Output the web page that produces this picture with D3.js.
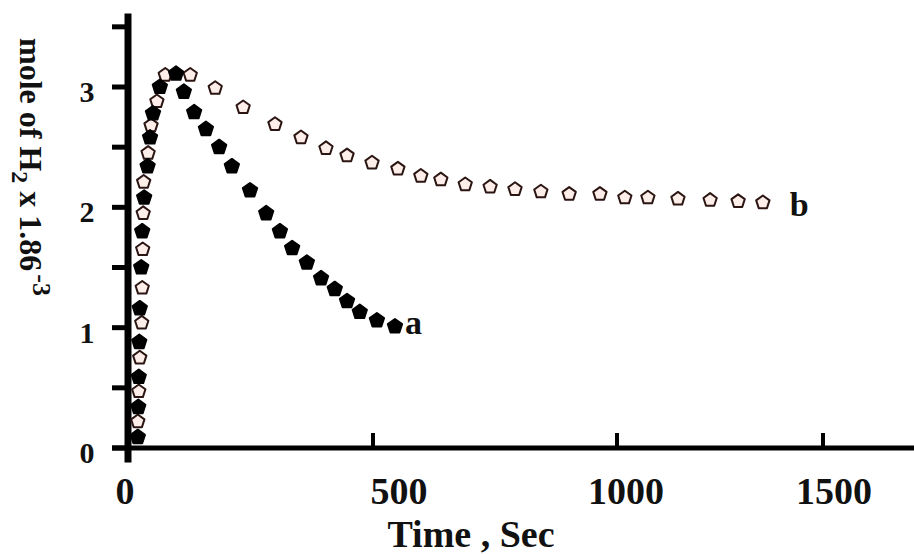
<!DOCTYPE html>
<html>
<head>
<meta charset="utf-8">
<script src="https://cdn.jsdelivr.net/npm/d3@7"></script>
<style>
  body { margin: 0; background: #fff; }
  svg text { font-family: "Liberation Serif", "Times New Roman", serif; font-weight: bold; fill: #111; }
</style>
</head>
<body>
<svg id="chart"></svg>
<script>
// curve a : filled markers
const timeA = [20, 21, 22, 23, 24, 27, 29, 33, 40, 45, 51, 65, 98, 114, 135, 159, 186, 212, 249, 282, 310, 335, 365, 394, 422, 447, 473, 508, 545];
const molA  = [0.09, 0.34, 0.59, 0.88, 1.16, 1.50, 1.80, 2.08, 2.34, 2.58, 2.78, 3.00, 3.11, 2.96, 2.79, 2.65, 2.50, 2.34, 2.14, 1.95, 1.80, 1.66, 1.54, 1.41, 1.32, 1.22, 1.13, 1.06, 1.01];

// curve b : open markers
const timeB = [20, 22, 24, 28, 29, 30, 31, 32, 41, 47, 59, 76, 127, 178, 235, 300, 353, 404, 447, 498, 551, 598, 639, 689, 740, 791, 844, 902, 965, 1019, 1075, 1148, 1226, 1294, 1354];
const molB  = [0.22, 0.47, 0.75, 1.04, 1.33, 1.65, 1.95, 2.21, 2.45, 2.68, 2.88, 3.10, 3.10, 2.99, 2.83, 2.69, 2.58, 2.49, 2.43, 2.37, 2.32, 2.26, 2.23, 2.19, 2.17, 2.15, 2.13, 2.11, 2.11, 2.08, 2.08, 2.07, 2.06, 2.05, 2.04];

const xTicks = [0, 500, 1000, 1500];
const yTicks = [0, 1, 2, 3];
const yAllTicks = [0, 0.5, 1, 1.5, 2, 2.5, 3, 3.5];

const width = 914, height = 554;

const svg = d3.select('#chart')
  .attr('width', width)
  .attr('height', height);

// the scanned original is not quite linear along x, so the scale is piecewise
const x = d3.scaleLinear()
  .domain([0, 500, 1000, 1500])
  .range([128, 373, 617, 823]);

// tick numbers sit a little off their ticks in the original
const xLabelPos = d3.scaleLinear()
  .domain([0, 500, 1000, 1500])
  .range([125, 399, 626, 834]);

const y = d3.scaleLinear()
  .domain([0, 3])
  .range([448, 87]);

const x0 = x(0), y0 = y(0);

// axis lines
svg.append('line')
  .attr('x1', x0).attr('x2', x0)
  .attr('y1', y(3.61)).attr('y2', y(-0.12))
  .attr('stroke', '#000').attr('stroke-width', 7);

svg.append('line')
  .attr('x1', x0 - 16).attr('x2', width)
  .attr('y1', y0).attr('y2', y0)
  .attr('stroke', '#000').attr('stroke-width', 5);

// y ticks (outside, to the left)
svg.selectAll('.ytick')
  .data(yAllTicks)
  .join('line')
  .attr('class', 'ytick')
  .attr('x1', x0 - 16).attr('x2', x0)
  .attr('y1', d => y(d)).attr('y2', d => y(d))
  .attr('stroke', '#000').attr('stroke-width', 5);

// x ticks (pointing up)
svg.selectAll('.xtick')
  .data(xTicks.slice(1))
  .join('line')
  .attr('class', 'xtick')
  .attr('x1', d => x(d)).attr('x2', d => x(d))
  .attr('y1', y0).attr('y2', y0 - 15)
  .attr('stroke', '#000').attr('stroke-width', 4);

// tick labels
svg.selectAll('.ylab')
  .data(yTicks)
  .join('text')
  .attr('class', 'ylab')
  .attr('x', x0 - 41)
  .attr('y', d => y(d) + 15)
  .attr('text-anchor', 'middle')
  .style('font-size', '30px')
  .text(d => d);

svg.selectAll('.xlab')
  .data(xTicks)
  .join('text')
  .attr('class', 'xlab')
  .attr('x', d => xLabelPos(d))
  .attr('y', 504)
  .attr('text-anchor', 'middle')
  .style('font-size', '38px')
  .text(d => d);

// axis titles
svg.append('text')
  .attr('x', 471)
  .attr('y', 547)
  .attr('text-anchor', 'middle')
  .style('font-size', '38px')
  .text('Time , Sec');

const yTitle = svg.append('text')
  .attr('transform', 'translate(20,38) rotate(90)')
  .style('font-size', '32px');
yTitle.append('tspan').text('mole of H');
yTitle.append('tspan').attr('dy', 8).style('font-size', '24px').text('2');
yTitle.append('tspan').attr('dy', -8).text(' x 1.86');
yTitle.append('tspan').attr('dy', -13).attr('dx', 3).style('font-size', '26px').text('-3');

// markers
const pentagon = d3.line().curve(d3.curveLinearClosed);
const pentaPts = r => d3.range(5).map(i => {
  const a = -Math.PI / 2 + i * 2 * Math.PI / 5;
  return [r * Math.cos(a), r * Math.sin(a)];
});

const ptsB = timeB.map((t, i) => ({ t, v: molB[i] }));
const ptsA = timeA.map((t, i) => ({ t, v: molA[i] }));

svg.selectAll('.mb')
  .data(ptsB)
  .join('path')
  .attr('class', 'mb')
  .attr('transform', d => `translate(${x(d.t)},${y(d.v)})`)
  .attr('d', pentagon(pentaPts(7)))
  .attr('fill', '#fdeeea')
  .attr('stroke', '#2b1512')
  .attr('stroke-width', 2)
  .attr('stroke-linejoin', 'round');

svg.selectAll('.ma')
  .data(ptsA)
  .join('path')
  .attr('class', 'ma')
  .attr('transform', d => `translate(${x(d.t)},${y(d.v)})`)
  .attr('d', pentagon(pentaPts(7.5)))
  .attr('fill', '#000')
  .attr('stroke', '#000')
  .attr('stroke-width', 2)
  .attr('stroke-linejoin', 'round');

// series labels
const lastA = ptsA[ptsA.length - 1], lastB = ptsB[ptsB.length - 1];
svg.append('text')
  .attr('x', x(lastA.t) + 10)
  .attr('y', y(lastA.v) + 8)
  .style('font-size', '34px')
  .text('a');
svg.append('text')
  .attr('x', x(lastB.t) + 27)
  .attr('y', y(lastB.v) + 13)
  .style('font-size', '34px')
  .text('b');
</script>
</body>
</html>
